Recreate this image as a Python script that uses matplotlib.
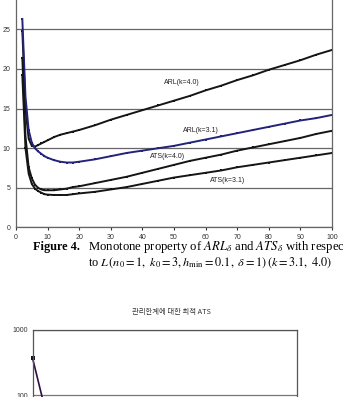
import matplotlib
matplotlib.use("Agg")
import matplotlib.pyplot as plt

# L values and curve values
L = [2, 3, 4, 5, 6, 7, 8, 9, 10, 12, 14, 16, 18, 20, 25, 30, 35, 40, 45, 50,
     55, 60, 65, 70, 75, 80, 85, 90, 95, 100]
arl_k40 = [24.8, 15.0, 11.2, 10.3, 10.2, 10.4, 10.6, 10.8, 11.0, 11.4, 11.7, 11.9,
           12.1, 12.3, 12.9, 13.6, 14.2, 14.8, 15.4, 16.0, 16.6, 17.3, 17.9, 18.6,
           19.2, 19.9, 20.5, 21.1, 21.8, 22.4]
arl_k31 = [26.3, 16.5, 12.3, 10.7, 10.0, 9.6, 9.3, 9.0, 8.8, 8.5, 8.3, 8.2,
           8.2, 8.3, 8.6, 9.0, 9.4, 9.7, 10.0, 10.3, 10.7, 11.1, 11.5, 11.9,
           12.3, 12.7, 13.1, 13.5, 13.8, 14.2]
ats_k40 = [21.4, 11.5, 7.6, 6.2, 5.4, 5.0, 4.8, 4.7, 4.7, 4.7, 4.8, 4.9,
           5.1, 5.2, 5.6, 6.0, 6.4, 6.9, 7.4, 7.9, 8.4, 8.8, 9.2, 9.7,
           10.1, 10.5, 10.9, 11.3, 11.8, 12.2]
ats_k31 = [19.2, 10.0, 6.8, 5.5, 4.9, 4.6, 4.4, 4.2, 4.15, 4.1, 4.1, 4.1,
           4.2, 4.3, 4.5, 4.8, 5.1, 5.5, 5.9, 6.3, 6.6, 6.9, 7.2, 7.6,
           7.9, 8.2, 8.5, 8.8, 9.1, 9.4]

# second (cropped) chart
L2 = [0, 1, 2, 3, 4, 5, 6, 8, 10, 15, 20, 25]
ats_opt = [372, 81, 32, 18, 13, 11, 10, 9.5, 9.8, 11, 12.5, 14]

W, H = 343, 397


def fx(px):
    return px / W


def fy(py):
    return 1 - py / H


plt.rcParams["font.family"] = ["Liberation Sans", "DejaVu Sans"]
plt.rcParams["mathtext.fontset"] = "stix"

fig = plt.figure(figsize=(W / 100, H / 100), dpi=100)

# ---- top chart ----
ax = fig.add_axes([fx(16), fy(227.5), fx(332) - fx(16), fy(0) - fy(227.5)])
grid_c = "#666666"
ax.set_xlim(0, 100)
ax.set_ylim(0, 28.7)
ax.set_xticks(range(0, 101, 10))
ax.set_yticks(range(0, 26, 5))
ax.yaxis.grid(True, color=grid_c, lw=0.9)
ax.set_axisbelow(True)
for s in ("left", "bottom", "right"):
    ax.spines[s].set_color(grid_c)
    ax.spines[s].set_linewidth(0.9)
ax.spines["top"].set_visible(False)
ax.tick_params(axis="x", length=2, pad=3, labelsize=5, colors="#333333")
ax.tick_params(axis="y", length=0, pad=4, labelsize=5, colors="#333333")

line_kw = dict(lw=1.4, marker="s", ms=1.6, mew=0)
ax.plot(L, arl_k40, color="#151515", **line_kw)
ax.plot(L, arl_k31, color="#23237a", **line_kw)
ax.plot(L, ats_k40, color="#151515", **line_kw)
ax.plot(L, ats_k31, color="#151515", **line_kw)

lab_kw = dict(fontsize=5, color="#222222", ha="center", va="center")
ax.text(52.5, 18.3, "ARL(k=4.0)", **lab_kw)
ax.text(58.5, 12.3, "ARL(k=3.1)", **lab_kw)
ax.text(48.0, 8.9, "ATS(k=4.0)", **lab_kw)
ax.text(67.0, 5.9, "ATS(k=3.1)", **lab_kw)

# ---- caption ----
serif = ["Liberation Serif", "DejaVu Serif"]
fig.text(fx(33), fy(247), "Figure 4.", fontweight="bold", fontsize=8.8,
         family=serif, va="center")
fig.text(fx(88), fy(247),
         r"Monotone property of $ARL_{\delta}$ and $ATS_{\delta}$ with respect",
         fontsize=9.2, family=serif, va="center")
fig.text(fx(88), fy(263),
         r"to $L\,(n_0=1,\ k_0=3, h_{\min}=0.1,\ \delta=1)\,(k=3.1,\ 4.0)$",
         fontsize=8.8, family=serif, va="center")

# ---- second chart (cut off at the bottom of the page) ----
fig.text(fx(171), fy(312), "관리한계에 대한 최적 ATS", fontsize=5.3,
         family=["Noto Sans CJK KR", "DejaVu Sans"], color="#333333",
         ha="center", va="center")
ax2 = fig.add_axes([fx(32.5), fy(460), fx(297) - fx(32.5), fy(330) - fy(460)])
ax2.set_yscale("log")
ax2.set_ylim(10, 1000)
ax2.set_xlim(0, 25)
ax2.set_xticks([])
ax2.set_yticks([10, 100, 1000])
ax2.set_yticklabels(["10", "100", "1000"])
ax2.minorticks_off()
ax2.yaxis.grid(True, color="#777777", lw=0.9)
for s in ax2.spines.values():
    s.set_color("#555555")
    s.set_linewidth(0.9)
ax2.tick_params(axis="y", length=0, pad=3, labelsize=5, colors="#333333")
ax2.plot(L2, ats_opt, color="#2e0f45", lw=1.2, marker="s", ms=2.2, mew=0,
         markerfacecolor="#111111", clip_on=False)

fig.savefig("out.png", dpi=100)
